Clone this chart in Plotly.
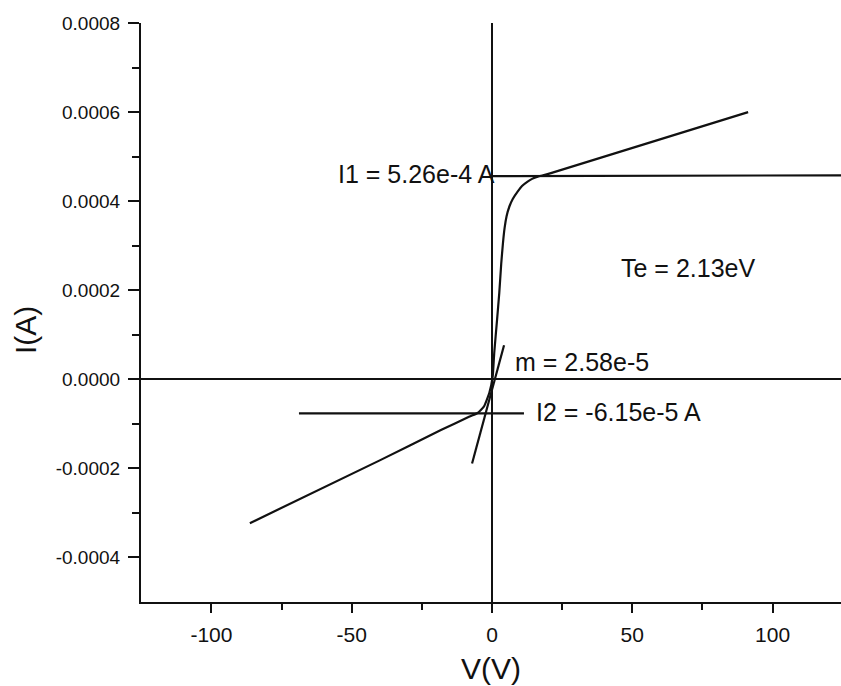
import plotly.graph_objects as go

# I-V probe characteristic
curve_v = [-86.3, -40.0, -18.2, -8.0, -5.1, -2.9, -0.96, 0.25, 0.8, 1.8, 2.6, 3.3,
           3.9, 4.5, 5.2, 6.2, 7.4, 9.2, 10.7, 12.7, 14.3, 16.3, 18.2, 21.0, 91.3]
curve_i = [-0.000323, -0.000182, -0.000114, -0.0000835, -0.0000757, -0.0000615,
           -0.0000308, 0.0000058, 0.000059, 0.000133, 0.000194, 0.000260,
           0.000305, 0.000340, 0.000366, 0.000388, 0.000405, 0.000422, 0.000434,
           0.000444, 0.000450, 0.000455, 0.000458, 0.000463, 0.000600]

# fit / construction lines
i1_v = [0.0, 124.4]
i1_i = [0.000456, 0.000458]
i2_v = [-68.8, 11.4]
i2_i = [-0.0000764, -0.0000764]
m_v = [-7.1, 4.3]
m_i = [-0.000189, 0.0000764]

# annotations
ann_text = ["I1 = 5.26e-4 A", "Te = 2.13eV", "m = 2.58e-5", "I2 = -6.15e-5 A"]
ann_x = [-55.5, 45.1, 7.5, 15.0]
ann_y = [0.000462, 0.000250, 0.000039, -0.0000734]

x_ticks = [-100, -50, 0, 50, 100]
x_tick_text = ["-100", "-50", "0", "50", "100"]
y_ticks = [-0.0004, -0.0002, 0.0, 0.0002, 0.0004, 0.0006, 0.0008]
y_tick_text = ["-0.0004", "-0.0002", "0.0000", "0.0002", "0.0004", "0.0006", "0.0008"]

FONT = "Liberation Sans, Arial, Helvetica, sans-serif"
lw = 2.2
col = "#111111"

fig = go.Figure()
fig.add_trace(go.Scatter(x=curve_v, y=curve_i, mode="lines",
                         line=dict(color=col, width=lw, shape="spline", smoothing=0.4),
                         showlegend=False, hoverinfo="skip"))
for xs, ys in [(i1_v, i1_i), (i2_v, i2_i), (m_v, m_i)]:
    fig.add_trace(go.Scatter(x=xs, y=ys, mode="lines", line=dict(color=col, width=lw),
                             showlegend=False, hoverinfo="skip"))

for t, x, y in zip(ann_text, ann_x, ann_y):
    fig.add_annotation(x=x, y=y, text=t, showarrow=False, xanchor="left", yanchor="middle",
                       font=dict(family=FONT, size=25, color=col))

fig.add_annotation(xref="paper", yref="paper", x=-0.164, y=0.47, text="I(A)", textangle=-90,
                   showarrow=False, xanchor="center", yanchor="middle",
                   font=dict(family=FONT, size=30, color=col))
fig.add_annotation(xref="paper", yref="paper", x=0.5, y=-0.114, text="V(V)",
                   showarrow=False, xanchor="center", yanchor="middle",
                   font=dict(family=FONT, size=30, color=col))

fig.update_xaxes(range=[-125.1, 124.4], tickvals=x_ticks, ticktext=x_tick_text,
                 ticks="outside", ticklen=9,
                 tickwidth=2, tickcolor=col, showline=True, linewidth=2.2, linecolor=col,
                 showgrid=False, zeroline=True, zerolinecolor=col, zerolinewidth=2.2,
                 tickfont=dict(family=FONT, size=21, color=col), ticklabelstandoff=4,
                 minor=dict(tickvals=[-75, -25, 25, 75], ticks="outside", ticklen=6,
                            tickwidth=2, tickcolor=col))
fig.update_yaxes(range=[-0.0005, 0.0008], tickvals=y_ticks, ticktext=y_tick_text,
                 ticks="outside", ticklen=11, tickwidth=2, tickcolor=col,
                 showline=True, linewidth=2.2, linecolor=col, showgrid=False,
                 zeroline=True, zerolinecolor=col, zerolinewidth=2.2,
                 tickfont=dict(family=FONT, size=19, color=col), ticklabelstandoff=4,
                 minor=dict(tickvals=[-0.0003, -0.0001, 0.0001, 0.0003, 0.0005, 0.0007],
                            ticks="outside", ticklen=7, tickwidth=2, tickcolor=col))

fig.update_layout(width=841, height=686, margin=dict(l=141, r=0, t=23, b=84),
                  plot_bgcolor="white", paper_bgcolor="white")

fig.write_html("out.html")
